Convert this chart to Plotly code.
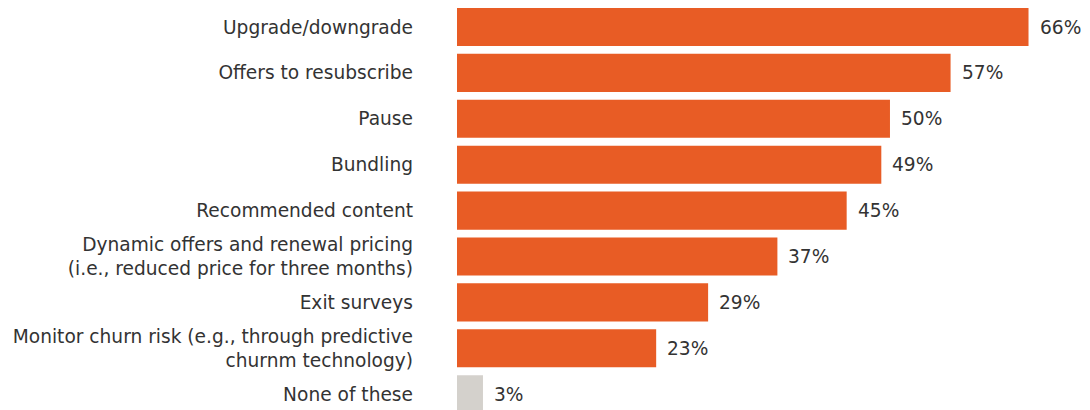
import plotly.graph_objects as go

categories = [
    "Upgrade/downgrade",
    "Offers to resubscribe",
    "Pause",
    "Bundling",
    "Recommended content",
    "Dynamic offers and renewal pricing<br>(i.e., reduced price for three months)",
    "Exit surveys",
    "Monitor churn risk (e.g., through predictive<br>churnm technology)",
    "None of these",
]
values = [66, 57, 50, 49, 45, 37, 29, 23, 3]
bar_colors = ["#E85C25"] * 8 + ["#D4D1CC"]

positions = list(range(len(categories)))
FONT = "DejaVu Sans"
FS = 18.6

fig = go.Figure()
fig.add_trace(go.Bar(
    x=values, y=positions, orientation="h",
    marker=dict(color=bar_colors, line=dict(width=0)),
    width=0.83, hoverinfo="skip",
))

for p, v in zip(positions, values):
    fig.add_annotation(x=v, y=p, text=f"{v}%", showarrow=False,
                       xanchor="left", yanchor="middle", xshift=9,
                       font=dict(family=FONT, size=FS, color="#333333"))

fig.update_layout(
    width=1082, height=402,
    margin=dict(l=449, r=0, t=0, b=0, autoexpand=False),
    paper_bgcolor="white", plot_bgcolor="white",
    showlegend=False,
    font=dict(family=FONT, size=FS, color="#333333"),
    xaxis=dict(range=[0, 73.1], visible=False, automargin=False),
    yaxis=dict(range=[8.344, -0.414], tickvals=positions, ticktext=categories,
               showgrid=False, zeroline=False, showline=False,
               automargin=False, ticklabelstandoff=43,
               tickfont=dict(family=FONT, size=FS, color="#333333")),
)

fig.write_html("out.html")
